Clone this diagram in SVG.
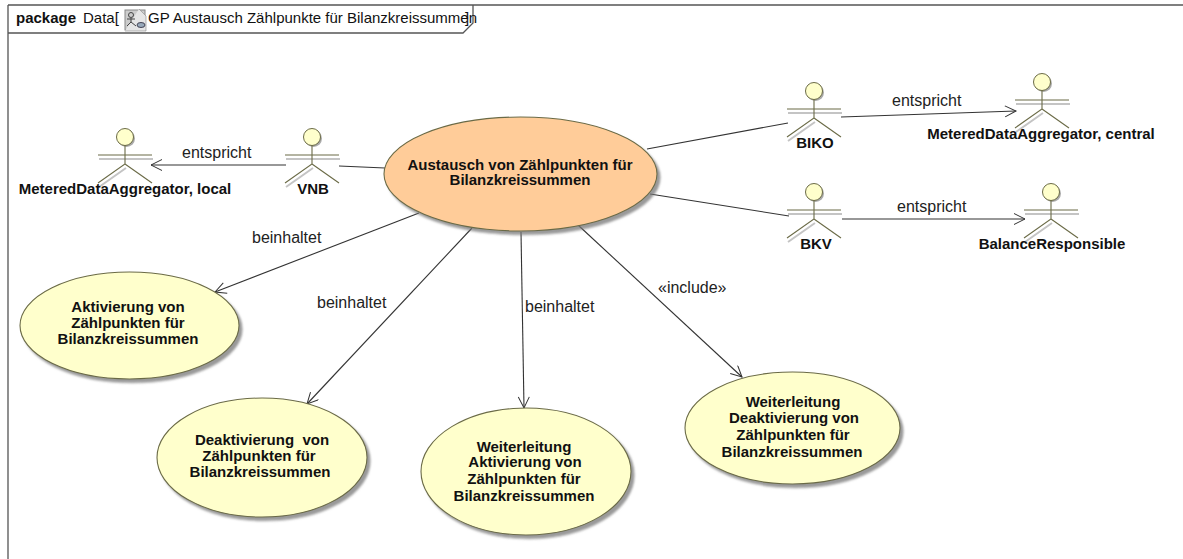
<svg xmlns="http://www.w3.org/2000/svg" width="1183" height="559" viewBox="0 0 1183 559">
<defs>
<filter id="sh" x="-10%" y="-10%" width="125%" height="125%"><feDropShadow dx="3" dy="3.500" stdDeviation="1" flood-color="#777" flood-opacity=".75"/></filter>
<marker id="arr" markerWidth="14" markerHeight="14" refX="12" refY="6" orient="auto" markerUnits="userSpaceOnUse"><path d="M1 0.500L12 6L1 11.500" fill="none" stroke="#333" stroke-width="1"/></marker>
<g id="actor">
<path d="M-27 20H27M-27 48L0 29" fill="none" stroke="#c4c4c4" stroke-width="2" transform="translate(1,2)"/>
<circle cx="1.500" cy="1.500" r="8.500" fill="#aaa"/>
<circle cx="0" cy="0" r="8.500" fill="#ffffcc" stroke="#6b6b47"/>
<path d="M-27 18H27M0 8.500V27L-27 46M0 27L27 46" fill="none" stroke="#6b6b47" stroke-width="1.100"/>
</g>
</defs>
<style>
text{font-family:"Liberation Sans",Arial,sans-serif;font-size:15px;fill:#111}
.l{font-size:16px;fill:#222}
.b{font-weight:bold}
.n{font-weight:bold;text-anchor:middle}
.uc{fill:#ffffcc;stroke:#6b6b47;stroke-width:1.100;filter:url(#sh)}
.c{fill:none;stroke:#333;stroke-width:1.100}
.a{marker-end:url(#arr)}
</style>
<rect width="1183" height="559" fill="#fff"/>
<g id="frame">
<path d="M8 5H1183M8 5V559" fill="none" stroke="#555" stroke-width="1.300"/>
<path d="M8 33H463L473 23V5" fill="none" stroke="#555" stroke-width="1.300"/>
<text class="b" x="16" y="23">package</text><text x="83" y="23">Data[</text>
<rect x="125" y="10" width="20" height="20" fill="#ccc" stroke="#888"/>
<path d="M139 9L146 16V31H125" fill="#e6e6e6" stroke="#888" stroke-width=".6"/>
<circle cx="131" cy="15" r="2.500" fill="none" stroke="#444"/><path d="M127 19H135M131 18V22L127 26M131 22L136 26" fill="none" stroke="#444"/><ellipse cx="141" cy="25" rx="4" ry="2.500" fill="#9ab" stroke="#445"/>
<text x="148" y="23">GP Austausch Zählpunkte für Bilanzkreissummen</text><text x="465" y="23">]</text>
</g>
<g id="connectors">
<path class="c" d="M385 168L339 166"/>
<path class="c a" d="M286 165H151"/>
<text class="l" x="182" y="158">entspricht</text>
<path class="c" d="M647 149L788 123"/>
<path class="c a" d="M841 117L1016 111"/>
<text class="l" x="892" y="106">entspricht</text>
<path class="c" d="M650 194L789 216"/>
<path class="c a" d="M842 219H1025"/>
<text class="l" x="897" y="212">entspricht</text>
<path class="c a" d="M419 213L215 292"/>
<text class="l" x="252" y="243">beinhaltet</text>
<path class="c a" d="M472 228L307 404"/>
<text class="l" x="317" y="308">beinhaltet</text>
<path class="c a" d="M521 232L524 408"/>
<text class="l" x="525" y="312">beinhaltet</text>
<path class="c a" d="M578 225L742 377"/>
<text class="l" x="658" y="293">«include»</text>
</g>
<g id="main"><ellipse cx="520.500" cy="174" rx="136.500" ry="57" class="uc" style="fill:#ffcc99"/><text class="n" x="520" y="170">Austausch von Zählpunkten für</text><text class="n" x="520" y="185">Bilanzkreissummen</text></g>
<g id="actor-local"><use href="#actor" x="125" y="137"/><text class="n" x="125" y="194">MeteredDataAggregator, local</text></g>
<g id="actor-vnb"><use href="#actor" x="312" y="137"/><text class="n" x="313" y="194">VNB</text></g>
<g id="actor-biko"><use href="#actor" x="814" y="91"/><text class="n" x="815" y="148">BIKO</text></g>
<g id="actor-central"><use href="#actor" x="1042" y="82"/><text class="n" x="1041" y="139">MeteredDataAggregator, central</text></g>
<g id="actor-bkv"><use href="#actor" x="814" y="192"/><text class="n" x="816" y="249">BKV</text></g>
<g id="actor-balance"><use href="#actor" x="1051" y="192"/><text class="n" x="1052" y="249">BalanceResponsible</text></g>
<g id="uc1"><ellipse cx="129.500" cy="325.500" rx="109.500" ry="53.500" class="uc"/><text class="n" x="128" y="312">Aktivierung von</text><text class="n" x="128" y="328">Zählpunkten für</text><text class="n" x="128" y="344">Bilanzkreissummen</text></g>
<g id="uc2"><ellipse cx="262" cy="457.500" rx="105" ry="59.500" class="uc"/><text class="n" x="262" y="445" xml:space="preserve">Deaktivierung  von</text><text class="n" x="259" y="461">Zählpunkten für</text><text class="n" x="260" y="477">Bilanzkreissummen</text></g>
<g id="uc3"><ellipse cx="526" cy="471.500" rx="105" ry="63.500" class="uc"/><text class="n" x="524" y="452">Weiterleitung</text><text class="n" x="525" y="467">Aktivierung von</text><text class="n" x="524" y="484">Zählpunkten für</text><text class="n" x="524" y="501">Bilanzkreissummen</text></g>
<g id="uc4"><ellipse cx="792.500" cy="428" rx="107.500" ry="56" class="uc"/><text class="n" x="793" y="407">Weiterleitung</text><text class="n" x="794" y="423">Deaktivierung von</text><text class="n" x="793" y="440">Zählpunkten für</text><text class="n" x="792" y="457">Bilanzkreissummen</text></g>
</svg>
